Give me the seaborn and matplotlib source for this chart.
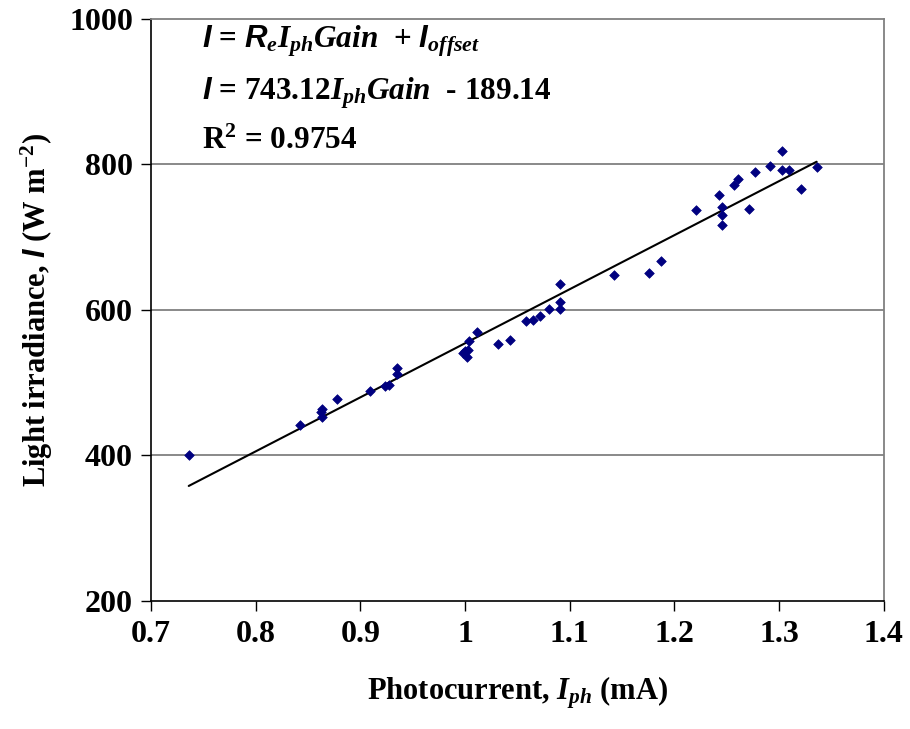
import numpy as np
import pandas as pd
import matplotlib
matplotlib.use("Agg")
import matplotlib.pyplot as plt
import seaborn as sns

photocurrent = [0.736, 0.842, 0.863, 0.862, 0.863, 0.878, 0.909, 0.924, 0.927, 0.935,
                0.935, 0.998, 1.000, 1.002, 1.003, 1.004, 1.011, 1.032, 1.043, 1.058,
                1.065, 1.072, 1.080, 1.091, 1.091, 1.091, 1.142, 1.176, 1.187, 1.221,
                1.243, 1.246, 1.246, 1.246, 1.257, 1.261, 1.271, 1.277, 1.291, 1.303,
                1.303, 1.310, 1.321, 1.336]
irradiance = [400, 441, 463, 459, 453, 477, 488, 495, 497, 520,
              512, 541, 544, 535, 545, 557, 570, 553, 558, 584,
              586, 592, 601, 635, 611, 601, 648, 650, 667, 737,
              758, 741, 731, 716, 772, 780, 739, 790, 798, 819,
              792, 792, 766, 796]

slope = 743.12
offset = -189.14
x_ticks = [0.7, 0.8, 0.9, 1.0, 1.1, 1.2, 1.3, 1.4]
x_tick_labels = ["0.7", "0.8", "0.9", "1", "1.1", "1.2", "1.3", "1.4"]
y_ticks = [200, 400, 600, 800, 1000]

df = pd.DataFrame({"iph": photocurrent, "irr": irradiance})
fit_x = np.array([df["iph"].min(), df["iph"].max()])
fit_df = pd.DataFrame({"iph": fit_x, "irr": slope * fit_x + offset})

sns.set_style("white")
plt.rcParams["font.family"] = ["Liberation Serif", "DejaVu Serif"]
plt.rcParams["font.weight"] = "bold"
plt.rcParams["text.color"] = "black"
plt.rcParams["axes.labelcolor"] = "black"
plt.rcParams["xtick.color"] = "black"
plt.rcParams["ytick.color"] = "black"
plt.rcParams["mathtext.fontset"] = "custom"
plt.rcParams["mathtext.rm"] = "Liberation Serif:bold"
plt.rcParams["mathtext.it"] = "Liberation Serif:bold:italic"
plt.rcParams["mathtext.bf"] = "Liberation Serif:bold"
plt.rcParams["mathtext.sf"] = "Liberation Sans:bold:italic"

fig = plt.figure(figsize=(9.1, 7.29), dpi=100)
ax = fig.add_axes([0.166, 0.176, 0.805, 0.798])

for yv in [400, 600, 800]:
    ax.axhline(yv, color="#808080", lw=1.3, zorder=0)

sns.lineplot(data=fit_df, x="iph", y="irr", color="black", lw=1.5, ax=ax, zorder=2)
sns.scatterplot(data=df, x="iph", y="irr", marker="D", s=24, color="#000080",
                edgecolor="#000080", linewidth=0.5, ax=ax, zorder=3)

ax.set_xlim(0.7, 1.4)
ax.set_ylim(200, 1000)
ax.set_xticks(x_ticks)
ax.set_xticklabels(x_tick_labels)
ax.set_yticks(y_ticks)
ax.tick_params(axis="both", direction="out", length=7, width=1, color="black",
               labelsize=23, pad=6, bottom=True, left=True)
ax.tick_params(axis="x", pad=7)
for lab in ax.get_xticklabels() + ax.get_yticklabels():
    lab.set_fontweight("bold")

for side in ["left", "bottom"]:
    ax.spines[side].set_color("black")
    ax.spines[side].set_linewidth(1.2)
for side in ["top", "right"]:
    ax.spines[side].set_color("#808080")
    ax.spines[side].set_linewidth(1.3)

ax.set_xlabel(r"Photocurrent, $I_{ph}$ (mA)", fontsize=22, fontweight="bold", labelpad=18)
ax.set_ylabel(r"Light irradiance, $\mathsf{I}$ (W m$^{\mathrm{-2}}$)", fontsize=22, fontweight="bold", labelpad=10)

ax.text(0.07, 0.962, r"$\mathsf{I}$ = $\mathsf{R}_{e}I_{ph}Gain$  + $\mathsf{I}_{offset}$",
        transform=ax.transAxes, fontsize=22.5, va="center", ha="left")
ax.text(0.07, 0.872, r"$\mathsf{I}$ = 743.12$I_{ph}Gain$  - 189.14",
        transform=ax.transAxes, fontsize=22.5, va="center", ha="left")
ax.text(0.07, 0.79, r"R$^{2}$ = 0.9754",
        transform=ax.transAxes, fontsize=22.5, va="center", ha="left")

fig.savefig("out.png", dpi=100)
